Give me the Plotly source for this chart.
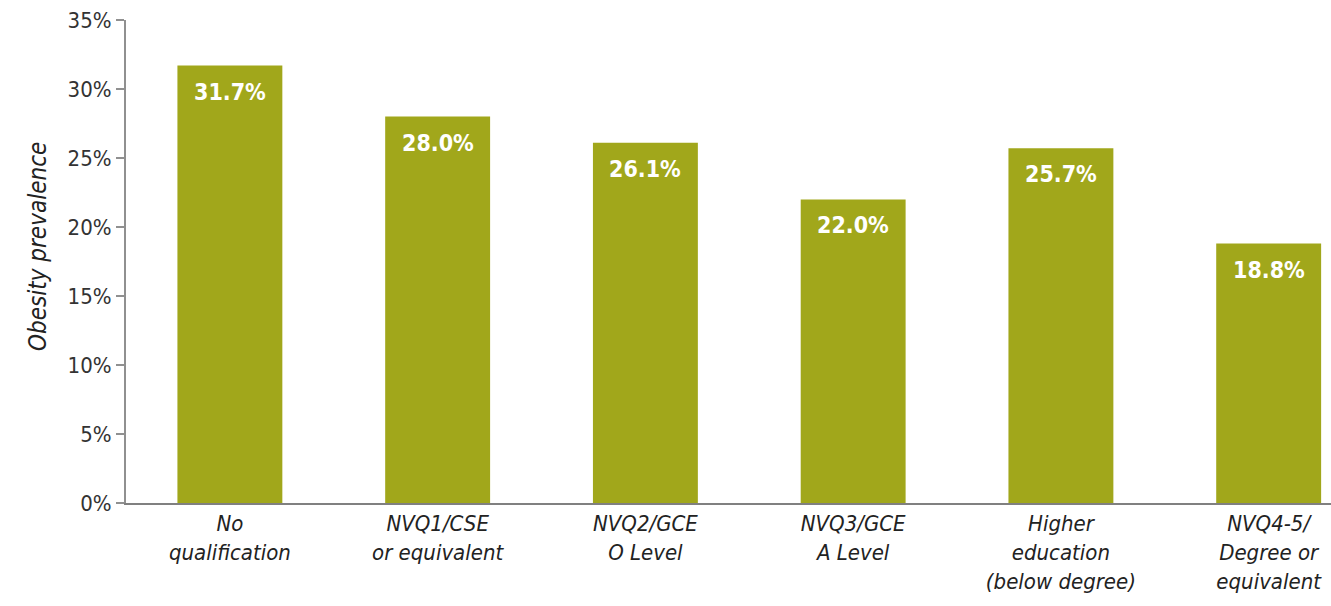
import plotly.graph_objects as go

categories = [
    "No<br>qualification",
    "NVQ1/CSE<br>or equivalent",
    "NVQ2/GCE<br>O Level",
    "NVQ3/GCE<br>A Level",
    "Higher<br>education<br>(below degree)",
    "NVQ4-5/<br>Degree or<br>equivalent",
]
prevalence = [31.7, 28.0, 26.1, 22.0, 25.7, 18.8]
y_ticks = [0, 5, 10, 15, 20, 25, 30, 35]
y_tick_labels = [f"{v}%" for v in y_ticks]

BAR_COLOR = "#A1A71B"
FONT = "Liberation Sans Narrow, DejaVu Sans Condensed, Roboto, sans-serif"

x_pos = list(range(len(categories)))

fig = go.Figure(
    go.Bar(
        x=x_pos,
        y=prevalence,
        width=0.505,
        marker=dict(color=BAR_COLOR, line=dict(width=0)),
        hoverinfo="skip",
    )
)

# value labels inside the top of each bar
for xi, v in zip(x_pos, prevalence):
    fig.add_annotation(
        x=xi, y=v, text=f"<b>{v:.1f}%</b>", showarrow=False,
        yanchor="top", yshift=-11,
        font=dict(family=FONT, size=23, color="white"),
    )

fig.update_layout(
    width=1331, height=606,
    margin=dict(l=126, r=0, t=20, b=103),
    paper_bgcolor="white", plot_bgcolor="white",
    showlegend=False,
    bargap=0.5,
)

fig.update_xaxes(
    range=[-0.5, 5.3],
    tickmode="array", tickvals=x_pos, ticktext=[f"<i>{c}</i>" for c in categories],
    tickfont=dict(family=FONT, size=22, color="#222"),
    showline=True, linecolor="#808080", linewidth=2,
    ticks="", showgrid=False, zeroline=False,
)
fig.update_yaxes(
    range=[0, 35],
    tickmode="array", tickvals=y_ticks, ticktext=y_tick_labels,
    tickfont=dict(family=FONT, size=22, color="#333"),
    showline=True, linecolor="#909090", linewidth=2,
    ticks="outside", ticklen=8, tickcolor="#909090", tickwidth=2,
    showgrid=False, zeroline=False,
)

fig.add_annotation(
    text="<i>Obesity prevalence</i>", xref="paper", yref="paper",
    x=-0.073, y=0.53, textangle=-90, showarrow=False,
    xanchor="center", yanchor="middle",
    font=dict(family=FONT, size=24, color="#222"),
)

fig.write_html("out.html")
